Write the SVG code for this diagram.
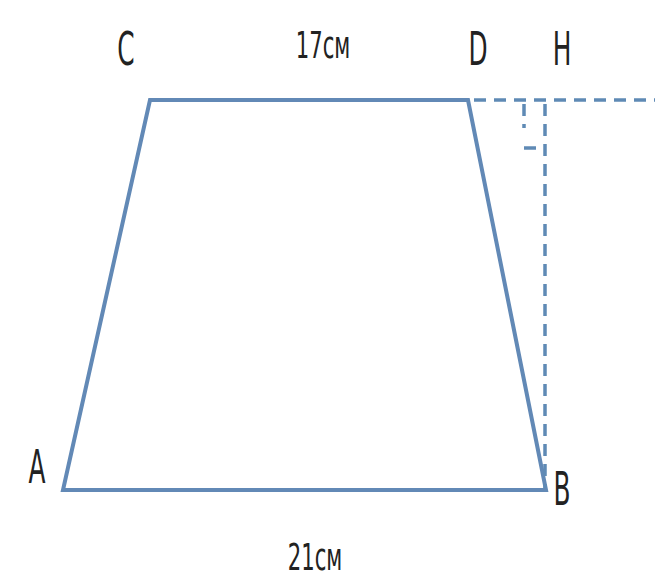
<svg xmlns="http://www.w3.org/2000/svg" width="663" height="581" viewBox="0 0 663 581">
<style>
.lbl{font-family:"DejaVu Sans Condensed","DejaVu Sans",sans-serif;font-size:46px;fill:#222;text-anchor:middle}
.dim{font-family:"DejaVu Sans Condensed","DejaVu Sans",sans-serif;font-size:38px;fill:#222;text-anchor:middle}
.edge{fill:none;stroke:#6289b6;stroke-width:4;stroke-linejoin:miter}
.dash{fill:none;stroke:#5f8ab5;stroke-width:3.5;stroke-dasharray:12,8}
</style>
<rect width="663" height="581" fill="#ffffff"/>
<g id="trapezoid">
<polygon points="63,490 150,100 468,100 546,490" fill="#f7fcff" class="edge"/>
</g>
<g id="connectors">
<line x1="474" y1="100" x2="655" y2="100" class="dash"/>
<line x1="545" y1="104" x2="545" y2="488" class="dash"/>
<line x1="524" y1="104" x2="524" y2="128" class="dash" stroke-dasharray="10,6"/>
<line x1="524" y1="148" x2="543" y2="148" class="dash" stroke-dasharray="10,6"/>
</g>
<g id="labels">
<text id="C" class="lbl" transform="translate(126,65) scale(0.6,1)">C</text>
<text id="D" class="lbl" transform="translate(478,65) scale(0.6,1)">D</text>
<text id="H" class="lbl" transform="translate(562,65) scale(0.6,1)">H</text>
<text id="A" class="lbl" transform="translate(37,483) scale(0.6,1)">A</text>
<text id="B" class="lbl" transform="translate(562,505) scale(0.6,1)">B</text>
<text id="top" class="dim" transform="translate(323,58) scale(0.62,1)">17см</text>
<text id="bottom" class="dim" transform="translate(315,570) scale(0.62,1)">21см</text>
</g>
</svg>
